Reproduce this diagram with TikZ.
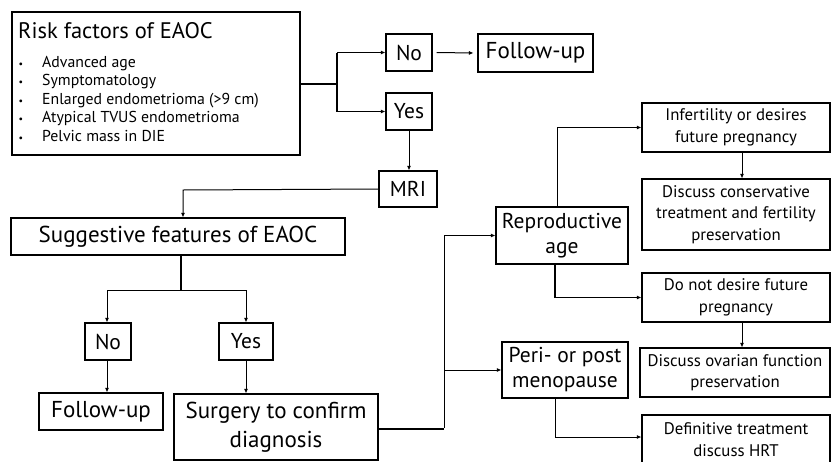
\documentclass[tikz,border=0pt]{standalone}
\usepackage{fontspec}
\setmainfont{PT Sans}
\usetikzlibrary{arrows.meta}
\begin{document}
\begin{tikzpicture}[x=1pt,y=-1pt,
  box/.style={draw=black, line width=1.1pt, inner sep=0pt, align=center},
  big/.style={font=\fontsize{23}{29}\selectfont},
  mid/.style={font=\fontsize{21.5}{25}\selectfont},
  sm/.style={font=\fontsize{16.8}{21.5}\selectfont},
  item/.style={anchor=base west, inner sep=0pt, font=\fontsize{15.8}{18}\selectfont},
  bul/.style={anchor=base, inner sep=0pt, font=\fontsize{10}{12}\selectfont},
  ln/.style={line width=1pt},
  trunk/.style={line width=2pt},
  arr/.style={line width=1pt, -{Latex[length=4.5pt,width=4pt]}}]
\useasboundingbox (0,0) rectangle (832,461);

% risk factors box
\node[box, minimum width=288pt, minimum height=143pt] (risk) at (156,83.5) {};
\node[anchor=base west, inner sep=0pt, font=\fontsize{22.5}{26}\selectfont] (rtitle) at (18,38) {Risk factors of EAOC};
\node[bul] (d1) at (21,67) {•};
\node[item] (i1) at (42,67) {Advanced age};
\node[bul] (d2) at (21,85.5) {•};
\node[item] (i2) at (42,85.5) {Symptomatology};
\node[bul] (d3) at (21,104) {•};
\node[item] (i3) at (42,104) {Enlarged endometrioma (>9 cm)};
\node[bul] (d4) at (21,122.5) {•};
\node[item] (i4) at (42,122.5) {Atypical TVUS endometrioma};
\node[bul] (d5) at (21,141) {•};
\node[item] (i5) at (42,141) {Pelvic mass in DIE};

% top branch
\node[box, mid, minimum width=46pt, minimum height=37pt] (no1) at (409,52.5) {No};
\node[box, big, minimum width=115pt, minimum height=38pt] (fu1) at (535.5,53) {Follow-up};
\node[box, mid, minimum width=46pt, minimum height=37pt] (yes1) at (409,111.5) {Yes};
\node[box, mid, minimum width=58pt, minimum height=36pt] (mri) at (408,189) {MRI};

% left lower part
\node[box, big, minimum width=334pt, minimum height=37pt] (sugg) at (178,236.5) {Suggestive features of EAOC};
\node[box, mid, minimum width=46pt, minimum height=37pt] (no2) at (108,341.5) {No};
\node[box, mid, minimum width=54pt, minimum height=37pt] (yes2) at (246,341.5) {Yes};
\node[box, big, minimum width=124pt, minimum height=37pt] (fu2) at (101,411.5) {Follow-up};
\node[box, big, minimum width=204pt, minimum height=66pt] (surg) at (276,427) {Surgery to confirm\\diagnosis};

% middle
\node[box, mid, minimum width=132pt, minimum height=57pt] (repro) at (562,235.5) {Reproductive\\age};
\node[box, mid, minimum width=126pt, minimum height=56pt] (peri) at (565,370) {Peri- or post\\menopause};

% right column
\node[box, sm, minimum width=188pt, minimum height=49pt] (inf) at (736,127.5) {Infertility or desires\\future pregnancy};
\node[box, sm, minimum width=188pt, minimum height=71pt] (cons) at (736,214.5) {Discuss conservative\\treatment and fertility\\preservation};
\node[box, sm, minimum width=188pt, minimum height=49pt] (dnd) at (736,297.5) {Do not desire future\\pregnancy};
\node[box, sm, minimum width=190pt, minimum height=49pt] (ova) at (735,372.5) {Discuss ovarian function\\preservation};
\node[box, sm, minimum width=188pt, minimum height=49pt] (def) at (736,439.5) {Definitive treatment\\discuss HRT};

% connectors
\coordinate (j1) at (337,83.5);
\draw[trunk] (risk.east) -- (j1);
\draw[trunk] (j1 |- no1.west) -- (j1 |- yes1.west);
\draw[arr] (j1 |- no1.west) -- (no1.west);
\draw[arr] (j1 |- yes1.west) -- (yes1.west);
\draw[arr] ([xshift=4pt]no1.east) -- ([xshift=-4pt]fu1.west);
\draw[arr] (yes1.south) -- (yes1.south |- mri.north);

\coordinate (j2) at (183,190);
\draw[arr] (mri.west) -- (j2) -- (j2 |- sugg.north);

\coordinate (j3) at (181,290);
\draw[trunk] (sugg.south -| j3) -- (j3);
\draw[ln] ([xshift=-1pt]no2.north |- j3) -- (yes2.north |- j3);
\draw[arr] ([xshift=-1pt]no2.north |- j3) -- ([xshift=-1pt]no2.north);
\draw[arr] (yes2.north |- j3) -- (yes2.north);
\draw[arr] ([xshift=-1pt]no2.south) -- ([xshift=-1pt]no2.south |- fu2.north);
\draw[arr] (yes2.south) -- (yes2.south |- surg.north);

\coordinate (j4) at (444,429);
\draw[trunk] (surg.east |- j4) -- (j4);
\draw[ln] ([yshift=1pt]j4) -- (j4 |- repro.west);
\draw[arr] (j4 |- repro.west) -- (repro.west);
\draw[arr] (j4 |- peri.west) -- (peri.west);

\draw[arr] ([xshift=-5pt]repro.north) |- (inf.west);
\draw[arr] ([xshift=6pt]inf.south) -- ([xshift=6pt]inf.south |- cons.north);
\draw[trunk] ([xshift=-7pt]repro.south) -- ([xshift=-7pt]repro.south |- dnd.west);
\draw[arr] ([xshift=-8pt]repro.south |- dnd.west) -- (dnd.west);
\draw[arr] ([xshift=6pt]dnd.south) -- ([xshift=6pt]dnd.south |- ova.north);
\draw[arr] ([xshift=-10pt]peri.south) |- ([yshift=2.5pt]def.west);
\end{tikzpicture}
\end{document}
